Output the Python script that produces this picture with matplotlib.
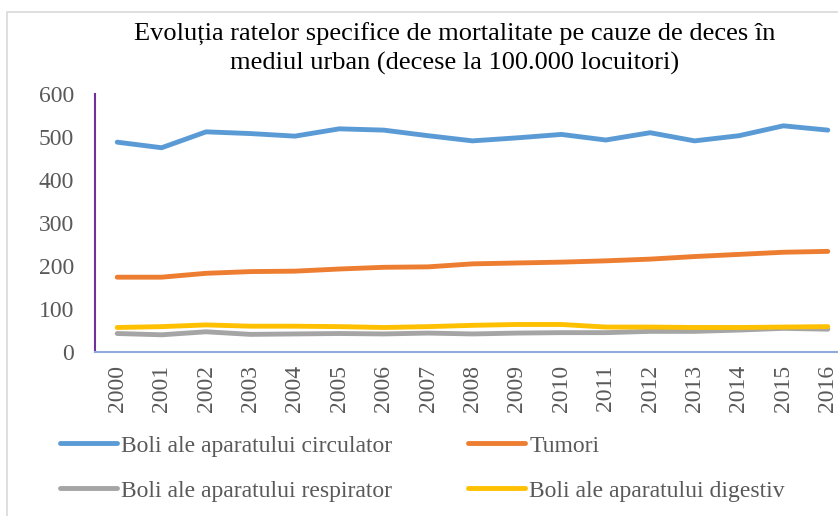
import matplotlib
matplotlib.use("Agg")
import matplotlib.pyplot as plt
from matplotlib.patches import Rectangle

years = [str(y) for y in range(2000, 2017)]
circulator = [488, 475, 512, 508, 502, 519, 516, 503, 491, 498, 506, 493, 510, 491, 503, 526, 516]
tumori = [174, 174, 183, 187, 188, 193, 197, 198, 205, 207, 209, 212, 216, 222, 227, 232, 234]
respirator = [43, 40, 47, 41, 42, 43, 42, 44, 42, 44, 45, 45, 48, 48, 51, 55, 53]
digestiv = [57, 59, 63, 60, 60, 59, 57, 59, 62, 64, 64, 58, 58, 57, 57, 58, 59]

labels = ["Boli ale aparatului circulator", "Tumori",
          "Boli ale aparatului respirator", "Boli ale aparatului digestiv"]
colors = ["#5B9BD5", "#ED7D31", "#A5A5A5", "#FFC000"]
title = "Evoluția ratelor specifice de mortalitate pe cauze de deces în\nmediul urban (decese la 100.000 locuitori)"

plt.rcParams['font.family'] = ['Liberation Serif', 'DejaVu Serif']

W, H = 838, 516
fig = plt.figure(figsize=(W / 100, H / 100), dpi=100)
fig.patch.set_facecolor("white")

# outer chart border
fig.patches.append(Rectangle((7 / W, -0.05), 1.1, 1 - 12 / H + 0.05, transform=fig.transFigure,
                             fill=False, edgecolor="#D9D9D9", linewidth=1.2))

left, right, bottom, top = 95, 850, 352, 94
ax = fig.add_axes([left / W, 1 - bottom / H, (right - left) / W, (bottom - top) / H])
x = list(range(len(years)))
lines = []
for vals, c, lab in zip([circulator, tumori, respirator, digestiv], colors, labels):
    ln, = ax.plot(x, vals, color=c, linewidth=3.5, solid_capstyle="round",
                  solid_joinstyle="round", label=lab)
    lines.append(ln)

ax.set_xlim(-0.5, len(years) - 0.5)
ax.set_ylim(0, 600)
ax.set_yticks(range(0, 601, 100))
ax.set_xticks(x)
ax.set_xticklabels(years, rotation=90)
ax.tick_params(axis="y", length=0, pad=15, labelsize=17, labelcolor="#595959")
ax.tick_params(axis="x", length=0, pad=9, labelsize=17, labelcolor="#595959")
for s in ["top", "right"]:
    ax.spines[s].set_visible(False)
ax.spines["left"].set_color("#7030A0")
ax.spines["left"].set_linewidth(1.5)
ax.spines["bottom"].set_color("#8FAADC")
ax.spines["bottom"].set_linewidth(1.5)
ax.patch.set_alpha(0)

fig.text(455 / W, 1 - 49 / H, title, ha="center", va="center", fontsize=19,
         color="black", linespacing=1.3)

order = [0, 2, 1, 3]
fig.legend([lines[i] for i in order], [labels[i] for i in order], ncol=2,
           loc="upper left", bbox_to_anchor=(60 / W, 1 - 435 / H), frameon=False,
           borderpad=0, borderaxespad=0,
           fontsize=17, handlelength=2.4, handletextpad=0.2, columnspacing=3.2,
           labelspacing=1.0, labelcolor="#595959")

fig.savefig("out.png", dpi=100)
